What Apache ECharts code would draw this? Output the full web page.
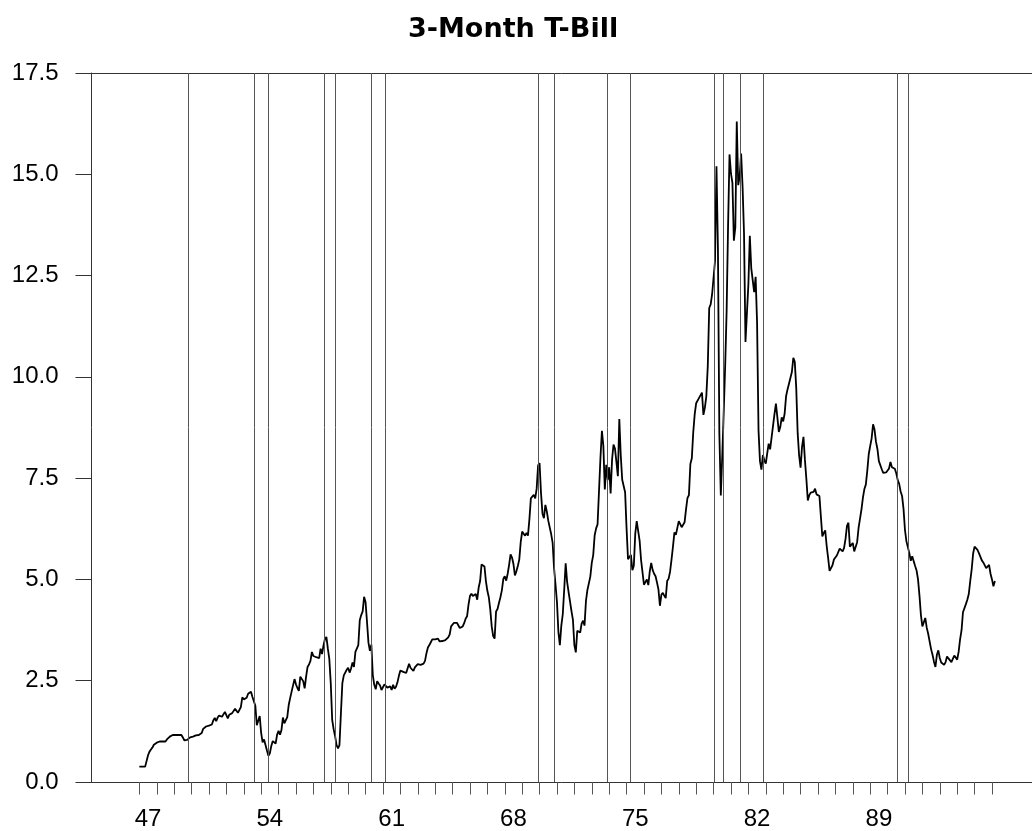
<!DOCTYPE html>
<html>
<head>
<meta charset="utf-8">
<script src="https://cdn.jsdelivr.net/npm/echarts@6/dist/echarts.min.js"></script>
<style>
html,body{margin:0;padding:0;background:#fff;}
#chart{width:1032px;height:831px;}
</style>
</head>
<body>
<div id="chart"></div>
<script>
// Monthly 3-month T-bill rates (percent), Jan 1947 onward
var startYear = 1947;
var rates1940s = [
  0.38,0.38,0.38,0.38,0.38,0.38,0.66,0.75,0.80,0.85,0.92,0.95,
  0.97,1.00,1.00,1.00,1.00,1.00,1.00,1.05,1.09,1.12,1.14,1.16,
  1.16,1.16,1.16,1.16,1.16,1.16,1.10,1.03,1.07,1.04,1.07,1.10
];
var rates1950s = [
  1.10,1.12,1.12,1.15,1.16,1.16,1.17,1.21,1.31,1.33,1.37,1.36,
  1.39,1.39,1.42,1.52,1.58,1.50,1.59,1.64,1.65,1.61,1.61,1.73,
  1.69,1.57,1.66,1.62,1.70,1.73,1.81,1.83,1.71,1.74,1.85,2.09,
  2.04,2.02,2.08,2.18,2.20,2.23,2.10,2.09,1.88,1.40,1.43,1.63,
  1.21,0.98,1.05,1.01,0.78,0.65,0.71,0.89,1.01,0.99,0.95,1.17,
  1.26,1.17,1.28,1.59,1.45,1.41,1.60,1.90,2.07,2.23,2.25,2.54,
  2.41,2.32,2.25,2.60,2.61,2.49,2.31,2.60,2.84,2.90,2.99,3.21,
  3.11,3.10,3.08,3.06,3.06,3.29,3.16,3.37,3.53,3.58,3.29,3.04,
  2.44,1.53,1.30,1.13,0.91,0.83,0.91,1.69,2.44,2.63,2.67,2.77,
  2.82,2.70,2.80,2.95,2.84,3.21,3.20,3.38,3.99,4.12,4.21,4.57
];
var rates1960s = [
  4.44,3.95,3.44,3.24,3.39,2.64,2.40,2.29,2.49,2.43,2.38,2.27,
  2.30,2.41,2.42,2.33,2.29,2.36,2.27,2.40,2.30,2.35,2.46,2.62,
  2.75,2.75,2.72,2.74,2.69,2.73,2.92,2.82,2.78,2.74,2.83,2.87,
  2.91,2.92,2.89,2.90,2.92,2.99,3.18,3.32,3.38,3.45,3.52,3.52,
  3.52,3.53,3.54,3.47,3.48,3.48,3.46,3.50,3.53,3.57,3.64,3.84,
  3.81,3.93,3.93,3.93,3.89,3.80,3.84,3.84,3.92,4.03,4.09,4.38,
  4.59,4.65,4.59,4.62,4.64,4.50,4.80,4.96,5.37,5.35,5.32,4.96,
  4.72,4.56,4.26,3.84,3.60,3.54,4.21,4.27,4.42,4.56,4.73,5.01,
  5.08,4.97,5.14,5.36,5.62,5.54,5.38,5.10,5.20,5.33,5.49,5.92,
  6.18,6.16,6.08,6.15,6.08,6.49,7.00,6.98,7.09,7.00,7.24,7.82
];
var rates1970s = [
  7.87,7.13,6.63,6.51,6.84,6.68,6.45,6.41,6.12,5.91,5.28,4.87,
  4.44,3.70,3.38,3.86,4.14,4.75,5.40,4.94,4.69,4.46,4.22,4.01,
  3.38,3.20,3.73,3.71,3.69,3.91,3.98,3.86,4.47,4.74,4.78,5.07,
  5.41,5.60,6.09,6.26,6.36,7.19,8.01,8.67,8.29,7.22,7.83,7.45,
  7.77,7.12,7.96,8.33,8.23,7.90,7.55,8.96,8.06,7.46,7.47,7.15,
  6.26,5.50,5.49,5.61,5.23,5.34,6.13,6.44,6.42,5.96,5.48,5.44,
  4.87,4.88,5.00,4.86,5.20,5.41,5.23,5.14,5.08,4.92,4.75,4.35,
  4.62,4.67,4.60,4.54,4.96,5.02,5.19,5.49,5.81,6.16,6.10,6.07,
  6.44,6.45,6.29,6.29,6.41,6.73,7.01,7.08,7.85,7.99,8.64,9.08,
  9.35,9.32,9.48,9.46,9.61,9.06,9.24,9.52,10.26,11.70,11.79,12.04
];
var rates1980s = [
  12.00,12.86,15.20,13.20,8.58,7.07,8.06,9.13,10.27,11.62,13.73,15.49,
  15.02,14.79,13.36,13.69,16.30,14.73,14.95,15.51,14.70,13.54,10.86,10.85,
  12.28,13.48,12.68,12.70,12.09,12.47,11.35,8.68,7.92,7.71,8.07,7.94,
  7.86,8.11,8.35,8.21,8.19,8.79,9.08,9.34,9.00,8.64,8.76,9.00,
  8.90,9.09,9.52,9.69,9.83,9.87,10.12,10.47,10.37,9.74,8.61,8.06,
  7.76,8.27,8.52,7.95,7.48,6.95,7.08,7.14,7.10,7.16,7.24,7.10,
  7.07,7.06,6.56,6.06,6.15,6.21,5.83,5.53,5.21,5.18,5.35,5.49,
  5.45,5.59,5.56,5.76,5.75,5.69,5.78,6.00,6.32,6.40,5.81,5.80,
  5.90,5.69,5.69,5.92,6.27,6.50,6.73,7.02,7.23,7.34,7.68,8.09,
  8.29,8.48,8.83,8.70,8.40,8.22,7.92,7.91,7.72,7.63,7.65,7.64
];
var rates1990s = [
  7.64,7.74,7.90,7.77,7.74,7.73,7.62,7.45,7.36,7.17,7.06,6.74,
  6.22,5.94,5.91,5.65,5.46,5.57,5.58,5.33,5.22,5.00,4.60,4.12,
  3.84,3.84,4.05,3.81,3.66,3.70,3.28,3.14,2.97,2.84,3.14,3.25,
  3.06,2.95,2.97,2.89,2.96,3.10,3.05,3.05,2.96,3.04,3.12,3.08,
  3.02,3.21,3.52,3.74,4.19,4.18,4.39,4.50,4.64,4.96,5.25,5.64,
  5.81,5.80,5.73,5.65,5.67,5.47,5.42,5.40,5.28,5.28,5.36,5.14,
  5.00,4.83,4.96
];
// Recession peak/trough markers (fractional years)
var recessionLines = [1949.83,1953.58,1954.38,1957.62,1958.27,1960.32,1961.13,
  1969.93,1970.87,1973.9,1975.22,1980.03,1980.53,1981.52,1982.85,1990.53,1991.2];
var xTickYears = [];
for (var y = 1947; y <= 1996; y++) xTickYears.push(y);
var xLabelYears = [1947,1954,1961,1968,1975,1982,1989];
var yMin = 0, yMax = 17.5, yStep = 2.5;

var allRates = [].concat(rates1940s, rates1950s, rates1960s, rates1970s, rates1980s, rates1990s);
var seriesData = allRates.map(function (v, i) { return [startYear + i / 12, v]; });

var chart = echarts.init(document.getElementById('chart'), null, {renderer: 'canvas'});
var axisColor = '#333';
chart.setOption({
  animation: false,
  backgroundColor: '#fff',
  title: {
    text: '3-Month T-Bill',
    left: 403,
    top: 11,
    textStyle: {fontFamily: 'DejaVu Sans', fontWeight: 'bold', fontSize: 27, color: '#000'}
  },
  grid: {left: 91.5, right: 0, top: 73, bottom: 47},
  xAxis: [{
    type: 'value',
    min: 1944.25,
    max: 1998.3,
    axisLine: {show: true, lineStyle: {color: axisColor, width: 1}},
    axisTick: {show: true, inside: false, length: 12.5, customValues: xTickYears,
      lineStyle: {color: '#555', width: 1}},
    axisLabel: {
      show: true, margin: 25,
      customValues: xLabelYears.map(function (y) { return y + 0.5; }),
      formatter: function (v) { return String(Math.floor(v)).slice(2); },
      fontFamily: 'Liberation Sans', fontSize: 24, color: '#000'
    },
    splitLine: {show: false}
  }, {
    type: 'value',
    position: 'top',
    min: 1944.25,
    max: 1998.3,
    axisLine: {show: true, lineStyle: {color: axisColor, width: 1}},
    axisTick: {show: false},
    axisLabel: {show: false},
    splitLine: {show: false}
  }],
  yAxis: {
    type: 'value',
    min: yMin, max: yMax, interval: yStep,
    axisLine: {show: true, lineStyle: {color: axisColor, width: 1}},
    axisTick: {show: true, inside: false, length: 16, lineStyle: {color: axisColor, width: 1}},
    axisLabel: {
      margin: 33,
      formatter: function (v) { return v.toFixed(1); },
      fontFamily: 'Liberation Sans', fontSize: 24, color: '#000'
    },
    splitLine: {show: false}
  },
  series: [{
    type: 'line',
    data: seriesData,
    showSymbol: false,
    symbol: 'none',
    lineStyle: {color: '#000', width: 1.8},
    silent: true,
    markLine: {
      silent: true,
      symbol: ['none', 'none'],
      label: {show: false},
      lineStyle: {color: '#555', width: 1, type: 'solid'},
      data: recessionLines.map(function (x) { return {xAxis: x}; })
    }
  }]
});
</script>
</body>
</html>
